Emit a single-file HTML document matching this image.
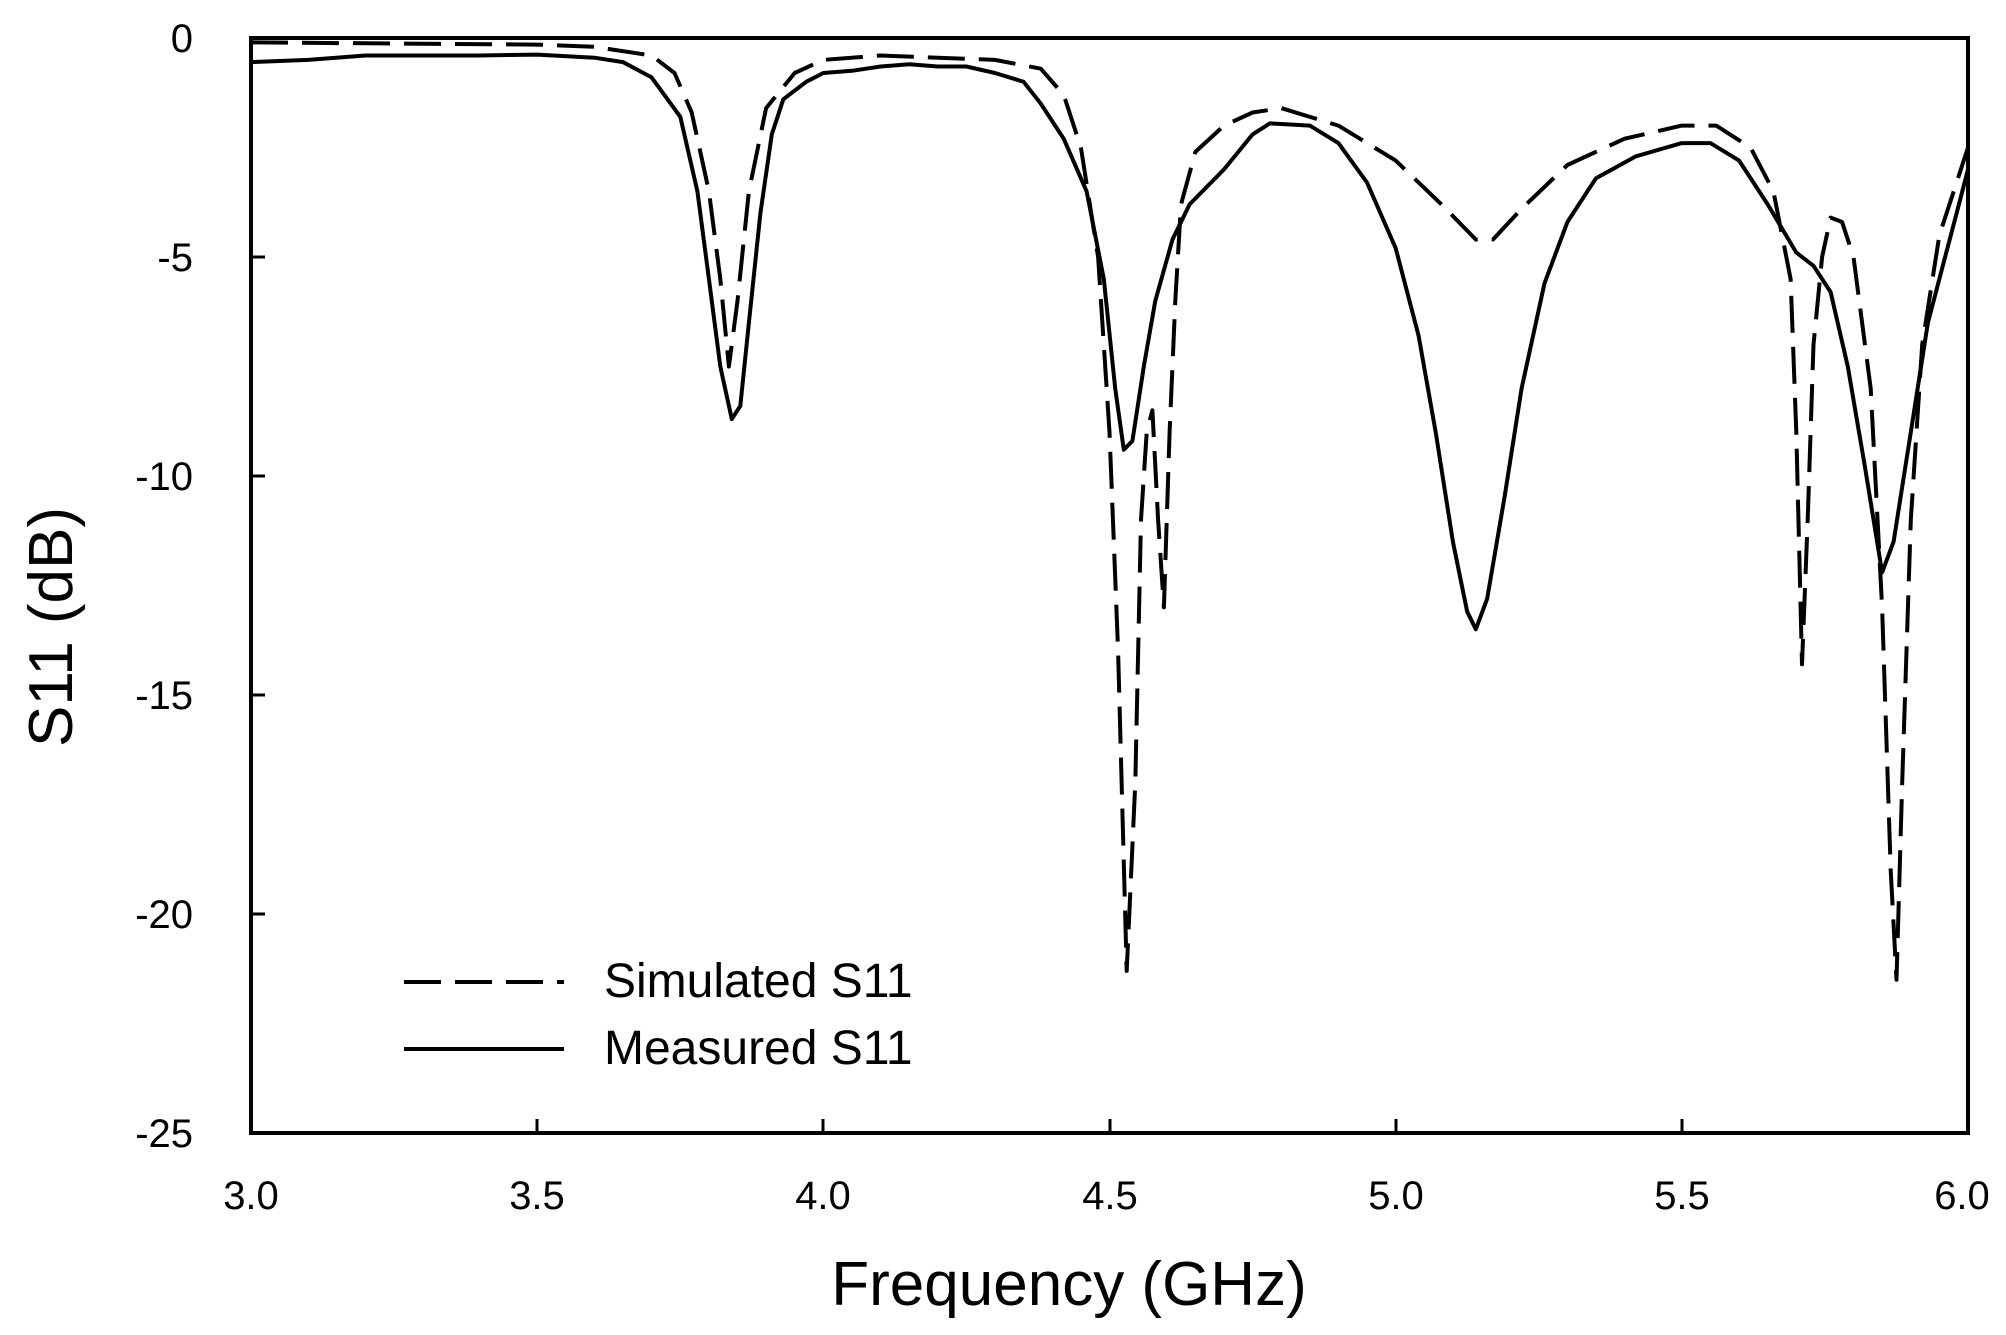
<!DOCTYPE html>
<html><head><meta charset="utf-8"><style>
html,body{margin:0;padding:0;background:#fff;}
svg{display:block;}
text{font-family:"Liberation Sans",sans-serif;fill:#000;}
</style></head><body>
<svg id="s" width="2006" height="1335" viewBox="0 0 2006 1335" xmlns="http://www.w3.org/2000/svg">
<rect x="0" y="0" width="2006" height="1335" fill="#fff"/>
<g id="plot"></g>
<rect x="251" y="38" width="1717" height="1095" fill="none" stroke="#000" stroke-width="4"/>
<g stroke="#000" stroke-width="3">
<line x1="251" y1="257" x2="265" y2="257"/><line x1="251" y1="476" x2="265" y2="476"/>
<line x1="251" y1="695" x2="265" y2="695"/><line x1="251" y1="914" x2="265" y2="914"/>
<line x1="537" y1="1133" x2="537" y2="1119"/><line x1="823" y1="1133" x2="823" y2="1119"/>
<line x1="1110" y1="1133" x2="1110" y2="1119"/><line x1="1396" y1="1133" x2="1396" y2="1119"/>
<line x1="1682" y1="1133" x2="1682" y2="1119"/>
</g>
<g font-size="40" text-anchor="end">
<text x="193" y="52">0</text><text x="193" y="271">-5</text><text x="193" y="490">-10</text>
<text x="193" y="709">-15</text><text x="193" y="928">-20</text><text x="193" y="1147">-25</text>
</g>
<g font-size="40" text-anchor="middle">
<text x="251" y="1209">3.0</text><text x="537" y="1209">3.5</text><text x="823" y="1209">4.0</text>
<text x="1110" y="1209">4.5</text><text x="1396" y="1209">5.0</text><text x="1682" y="1209">5.5</text>
<text x="1962" y="1209">6.0</text>
</g>
<text x="1069" y="1305" font-size="62" text-anchor="middle">Frequency (GHz)</text>
<text transform="translate(72,627) rotate(-90)" font-size="62" text-anchor="middle">S11 (dB)</text>
<line x1="404" y1="982" x2="564" y2="982" stroke="#000" stroke-width="4" stroke-dasharray="37,14"/>
<line x1="404" y1="1049" x2="564" y2="1049" stroke="#000" stroke-width="4"/>
<text x="604" y="997" font-size="48">Simulated S11</text>
<text x="604" y="1064" font-size="48">Measured S11</text>
</svg>
<script>
var meas=[[3.0,-0.55],[3.1,-0.5],[3.2,-0.4],[3.3,-0.4],[3.4,-0.4],[3.5,-0.38],[3.6,-0.45],[3.65,-0.55],[3.7,-0.9],[3.75,-1.8],[3.78,-3.5],[3.80,-5.5],[3.82,-7.5],[3.84,-8.7],[3.855,-8.4],[3.87,-6.5],[3.89,-4],[3.91,-2.2],[3.93,-1.4],[3.97,-1.0],[4.0,-0.8],[4.05,-0.75],[4.1,-0.65],[4.15,-0.6],[4.2,-0.65],[4.25,-0.65],[4.3,-0.8],[4.35,-1.0],[4.38,-1.5],[4.42,-2.3],[4.46,-3.5],[4.49,-5.5],[4.51,-8],[4.525,-9.4],[4.54,-9.2],[4.56,-7.5],[4.58,-6],[4.61,-4.6],[4.64,-3.8],[4.7,-3.0],[4.75,-2.2],[4.78,-1.95],[4.85,-2.0],[4.9,-2.4],[4.95,-3.3],[5.0,-4.8],[5.04,-6.8],[5.07,-9.0],[5.1,-11.5],[5.125,-13.1],[5.14,-13.5],[5.16,-12.8],[5.19,-10.5],[5.22,-8],[5.26,-5.6],[5.3,-4.2],[5.35,-3.2],[5.42,-2.7],[5.5,-2.4],[5.55,-2.4],[5.6,-2.8],[5.65,-3.8],[5.7,-4.9],[5.73,-5.2],[5.76,-5.8],[5.79,-7.5],[5.82,-9.8],[5.85,-12.2],[5.87,-11.5],[5.9,-9],[5.93,-6.5],[5.96,-5],[5.98,-4],[6.0,-3.0]];
var sim=[[3.0,-0.1],[3.5,-0.15],[3.6,-0.2],[3.7,-0.4],[3.74,-0.8],[3.77,-1.7],[3.8,-3.5],[3.82,-5.5],[3.835,-7.5],[3.85,-6],[3.87,-3.5],[3.9,-1.6],[3.95,-0.8],[4.0,-0.5],[4.1,-0.4],[4.3,-0.5],[4.38,-0.7],[4.42,-1.3],[4.45,-2.5],[4.48,-5],[4.5,-9],[4.515,-14],[4.53,-21.3],[4.545,-17],[4.555,-11],[4.565,-9],[4.575,-8.5],[4.585,-11],[4.595,-13],[4.605,-9],[4.615,-6],[4.625,-3.8],[4.65,-2.6],[4.7,-2],[4.75,-1.7],[4.8,-1.6],[4.9,-2.0],[5.0,-2.8],[5.08,-3.8],[5.14,-4.6],[5.17,-4.6],[5.22,-3.9],[5.3,-2.9],[5.4,-2.3],[5.5,-2.0],[5.56,-2.0],[5.62,-2.5],[5.66,-3.5],[5.69,-5.5],[5.7,-9],[5.71,-14.3],[5.72,-11],[5.73,-7],[5.745,-5],[5.76,-4.1],[5.78,-4.2],[5.8,-5],[5.83,-8],[5.85,-13],[5.865,-19],[5.875,-21.5],[5.885,-17],[5.9,-11],[5.92,-7],[5.95,-4.5],[5.98,-3.3],[6.0,-2.5]];
function X(f){return 251+(f-3)*1717/3;}function Y(d){return 38-d*43.8;}
function path(a){return a.map(function(p,i){return (i?'L':'M')+X(p[0]).toFixed(1)+','+Y(p[1]).toFixed(1);}).join('');}
var g=document.getElementById('plot');
g.innerHTML='<path d="'+path(sim)+'" fill="none" stroke="#000" stroke-width="4" stroke-dasharray="37,14" stroke-linejoin="round"/>'+
'<path d="'+path(meas)+'" fill="none" stroke="#000" stroke-width="4" stroke-linejoin="round"/>';
</script>
</body></html>
